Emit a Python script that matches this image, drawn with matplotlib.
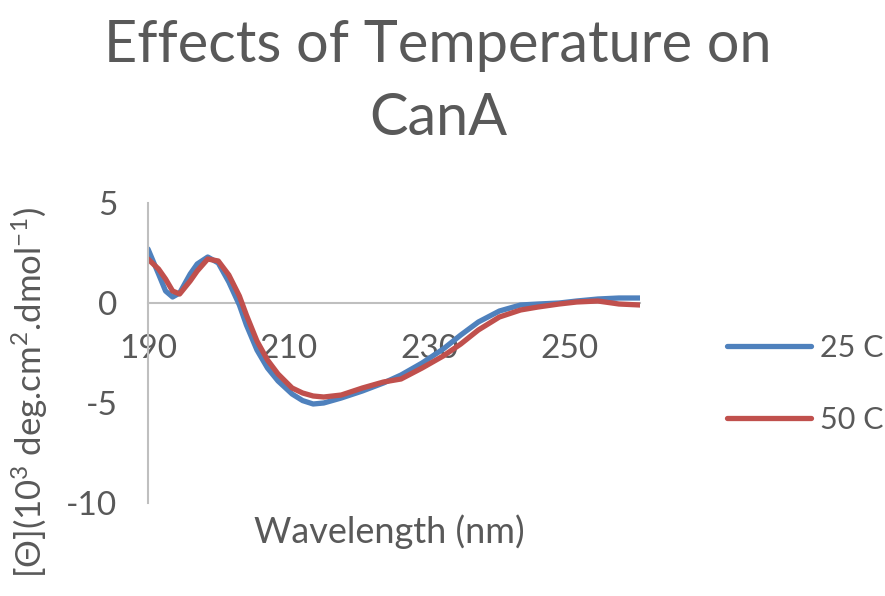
import matplotlib
matplotlib.use("Agg")
import matplotlib.pyplot as plt

plt.rcParams['font.family'] = ['Lato', 'DejaVu Sans']
plt.rcParams['mathtext.fontset'] = 'custom'
plt.rcParams['mathtext.rm'] = 'Lato'
plt.rcParams['mathtext.it'] = 'Lato:italic'
plt.rcParams['mathtext.bf'] = 'Lato:bold'

wavelength = [190, 191.5, 192.5, 193.5, 194.5, 196, 197, 198.5, 200, 201.5,
              203, 204, 205.5, 207, 208.5, 210.5, 212, 213.5, 215, 217.5,
              220.5, 223.5, 226, 229, 232, 234.5, 237, 240, 243, 245.5,
              248.5, 251, 254, 257, 260]
theta_25C = [2.7, 1.45, 0.6, 0.3, 0.5, 1.45, 1.95, 2.3, 2.0, 1.05,
             -0.1, -1.1, -2.35, -3.25, -3.9, -4.55, -4.88, -5.05, -5.0, -4.75,
             -4.4, -4.0, -3.6, -3.0, -2.3, -1.6, -0.95, -0.4, -0.1, -0.05,
             0.0, 0.1, 0.2, 0.25, 0.25]
theta_50C = [2.2, 1.7, 1.2, 0.6, 0.45, 1.1, 1.6, 2.2, 2.1, 1.4,
             0.35, -0.6, -1.9, -2.85, -3.55, -4.25, -4.5, -4.65, -4.7, -4.6,
             -4.25, -3.95, -3.8, -3.25, -2.65, -2.05, -1.35, -0.7, -0.35, -0.2,
             -0.05, 0.05, 0.1, -0.05, -0.1]
series_labels = ['25 C', '50 C']
x_ticks = [190, 210, 230, 250]
y_ticks = [-10, -5, 0, 5]

TXT = '#595959'
AX = '#BFBFBF'
W, H = 885, 596

fig = plt.figure(figsize=(W / 100, H / 100), dpi=100)
ax = fig.add_axes([148 / W, 1 - 503 / H, (640 - 148) / W, (503 - 203) / H])

ax.plot(wavelength, theta_25C, color='#4F81BD', lw=3.8, solid_capstyle='round',
        solid_joinstyle='round', label=series_labels[0])
ax.plot(wavelength, theta_50C, color='#C0504D', lw=3.8, solid_capstyle='round',
        solid_joinstyle='round', label=series_labels[1])

ax.set_xlim(190, 260)
ax.set_ylim(-10, 5)
ax.set_xticks(x_ticks)
ax.set_yticks(y_ticks)
ax.set_xticklabels([str(v) for v in x_ticks])
ax.set_yticklabels([str(v) for v in y_ticks])

for s in ['top', 'right']:
    ax.spines[s].set_visible(False)
ax.spines['bottom'].set_position(('data', 0))
ax.spines['bottom'].set_color(AX)
ax.spines['left'].set_color(AX)
ax.spines['bottom'].set_linewidth(1.5)
ax.spines['left'].set_linewidth(1.5)
ax.spines['bottom'].set_zorder(0)
ax.tick_params(axis='both', length=0, labelsize=24, colors=TXT)
ax.tick_params(axis='x', pad=22)
ax.tick_params(axis='y', pad=22)
ax.patch.set_alpha(0)

fig.text(389 / W, 1 - 532 / H, 'Wavelength (nm)', ha='center', va='center',
         fontsize=26, color=TXT)
fig.text(30 / W, 1 - 207 / H, r'[Θ](10$^3$ deg.cm$^2$.dmol$^{-1}$)', rotation=90,
         ha='center', va='top', fontsize=25, color=TXT)

fig.text(438 / W, 1 - 62 / H, 'Effects of Temperature on', ha='center', va='baseline',
         fontsize=41.5, color=TXT)
fig.text(438 / W, 1 - 135 / H, 'CanA', ha='center', va='baseline',
         fontsize=41.5, color=TXT)

leg = ax.legend(loc='center left', bbox_to_anchor=(727 / W, 1 - 384 / H),
                bbox_transform=fig.transFigure, frameon=False, fontsize=22,
                handlelength=2.75, handletextpad=0.3, labelspacing=1.45,
                borderpad=0, borderaxespad=0)
for t in leg.get_texts():
    t.set_color(TXT)

fig.savefig('out.png', dpi=100)
